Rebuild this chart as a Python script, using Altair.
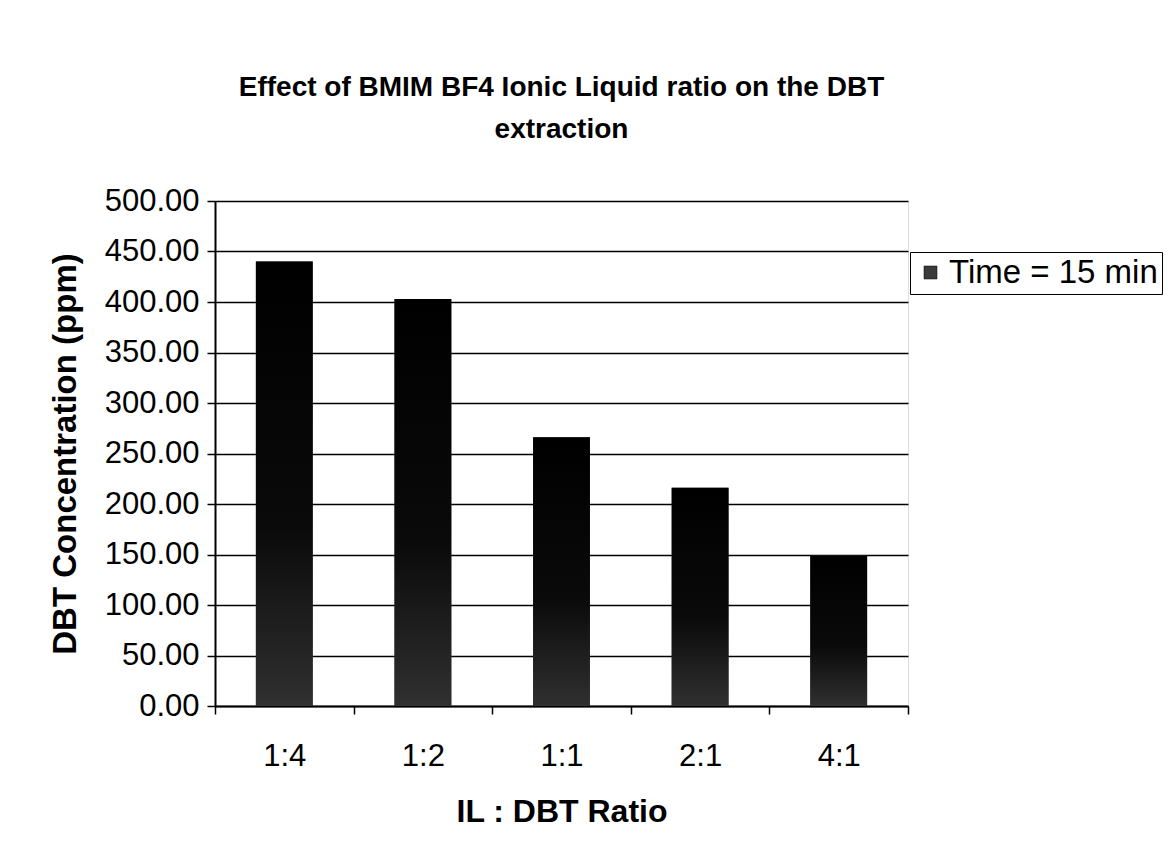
import altair as alt
import pandas as pd

ratios = ["1:4", "1:2", "1:1", "2:1", "4:1"]
concentration = [440.0, 403.0, 266.0, 216.0, 149.0]
series_name = ["Time = 15 min"] * 5
y_ticks = [0, 50, 100, 150, 200, 250, 300, 350, 400, 450, 500]

df = pd.DataFrame({"ratio": ratios, "value": concentration, "series": series_name})

FONT = "Liberation Sans"

x_enc = alt.X(
    "ratio:N",
    sort=ratios,
    scale=alt.Scale(paddingInner=0, paddingOuter=0),
    axis=alt.Axis(
        title="IL : DBT Ratio",
        labelAngle=0,
        tickBand="extent",
        tickSize=8,
        tickColor="black",
        tickWidth=1.5,
        domainColor="black",
        domainWidth=2,
        labelFont=FONT,
        labelFontSize=31,
        labelColor="black",
        labelPadding=27,
        titleFont=FONT,
        titleFontSize=32,
        titleFontWeight="bold",
        titleColor="black",
        titlePadding=25,
        grid=False,
    ),
)

y_enc = alt.Y(
    "value:Q",
    scale=alt.Scale(domain=[0, 500], nice=False),
    axis=alt.Axis(
        title="DBT Concentration (ppm)",
        values=y_ticks,
        format=".2f",
        tickSize=8,
        tickColor="black",
        tickWidth=1.5,
        domainColor="black",
        domainWidth=2,
        gridColor="black",
        gridWidth=1.5,
        labelFont=FONT,
        labelFontSize=31,
        labelColor="black",
        labelPadding=8,
        titleFont=FONT,
        titleFontSize=33,
        titleFontWeight="bold",
        titleColor="black",
        titlePadding=22,
    ),
)

legend_bars = alt.Chart(df).mark_bar(width=alt.RelativeBandSize(0.41)).encode(
    x=x_enc,
    y=y_enc,
    color=alt.Color(
        "series:N",
        scale=alt.Scale(range=["#3a3a3a"]),
        legend=alt.Legend(
            title=None,
            orient="none",
            legendX=695,
            legendY=51,
            strokeColor="black",
            fillColor="white",
            padding=4,
            symbolType="square",
            symbolSize=170,
            symbolOffset=0,
            symbolStrokeColor="black",
            symbolStrokeWidth=0.5,
            labelOffset=2,
            labelFont=FONT,
            labelFontSize=33,
            labelColor="black",
            labelLimit=600,
            labelExpr="datum.label + '\u00a0\u00a0\u00a0\u00a0\u00a0\u00a0'",
        ),
    ),
)

gradient = alt.LinearGradient(
    gradient="linear",
    x1=0, y1=0, x2=0, y2=1,
    stops=[
        alt.GradientStop(color="#000000", offset=0),
        alt.GradientStop(color="#0a0a0a", offset=0.6),
        alt.GradientStop(color="#303030", offset=1),
    ],
)

shaded_bars = alt.Chart(df).mark_bar(width=alt.RelativeBandSize(0.41), color=gradient).encode(
    x=x_enc,
    y=y_enc,
)

chart = (
    alt.layer(legend_bars, shaded_bars)
    .properties(
        width=693,
        height=505,
        autosize=alt.AutoSizeParams(type="none"),
        padding={"left": 215, "top": 201, "right": 266, "bottom": 153},
        title=alt.TitleParams(
            ["Effect of BMIM BF4 Ionic Liquid ratio on the DBT", "extraction"],
            font=FONT,
            fontSize=28,
            fontWeight="bold",
            color="black",
            anchor="middle",
            lineHeight=42,
            offset=41,
        ),
    )
    .configure_view(stroke="black", strokeWidth=3, strokeOpacity=1)
    .configure(background="white")
)

chart.save("out.html", embed_options={"renderer": "svg", "actions": False})
